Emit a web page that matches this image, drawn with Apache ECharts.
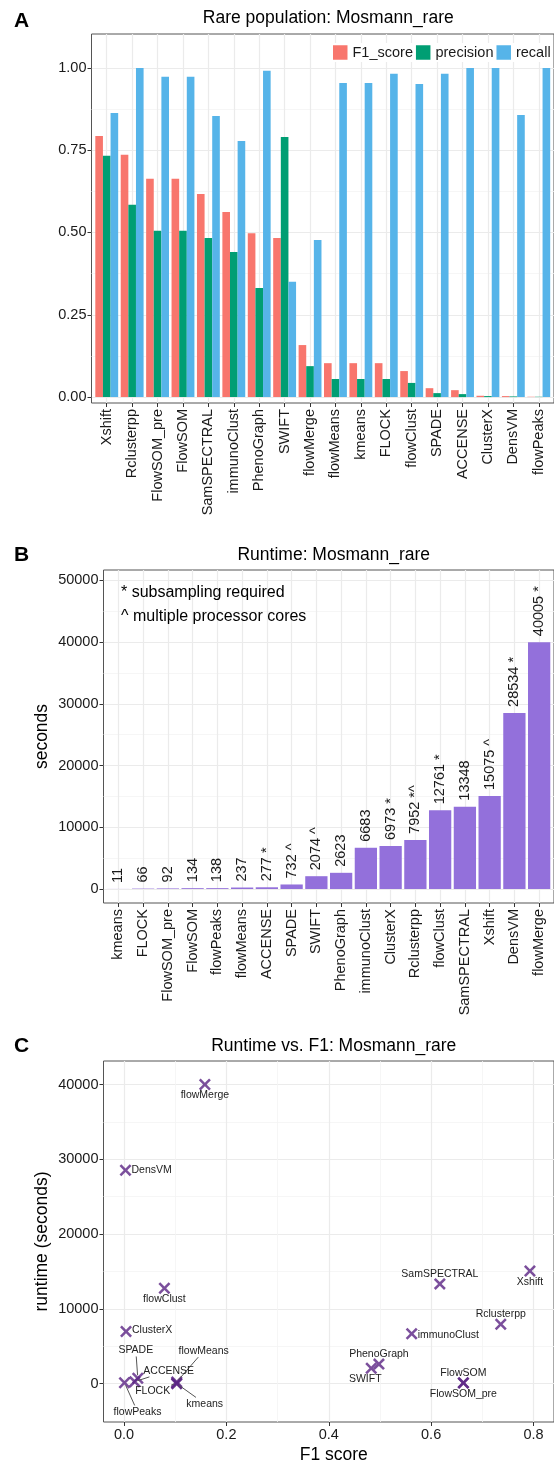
<!DOCTYPE html>
<html><head><meta charset="utf-8">
<script src="https://cdn.jsdelivr.net/npm/echarts@6/dist/echarts.min.js"></script>
<style>html,body{margin:0;padding:0;background:#fff}#c{width:554px;height:1464px}</style>
</head><body><div id="c"></div>
<script>
// ---------- data ----------
const catsA = ['Xshift','Rclusterpp','FlowSOM_pre','FlowSOM','SamSPECTRAL','immunoClust','PhenoGraph','SWIFT','flowMerge','flowMeans','kmeans','FLOCK','flowClust','SPADE','ACCENSE','ClusterX','DensVM','flowPeaks'];
const f1Score   = [0.793,0.736,0.663,0.663,0.617,0.562,0.498,0.483,0.158,0.103,0.103,0.103,0.079,0.027,0.021,0.004,0.003,0.001];
const precision = [0.733,0.584,0.505,0.505,0.483,0.441,0.331,0.790,0.094,0.055,0.055,0.055,0.043,0.012,0.009,0.003,0.002,0.001];
const recall    = [0.863,1.000,0.973,0.973,0.854,0.778,0.991,0.350,0.477,0.954,0.954,0.982,0.951,0.982,1.000,1.000,0.857,1.000];

const catsB = ['kmeans','FLOCK','FlowSOM_pre','FlowSOM','flowPeaks','flowMeans','ACCENSE','SPADE','SWIFT','PhenoGraph','immunoClust','ClusterX','Rclusterpp','flowClust','SamSPECTRAL','Xshift','DensVM','flowMerge'];
const runtimeB = [11,66,92,134,138,237,277,732,2074,2623,6683,6973,7952,12761,13348,15075,28534,40005];
const notesB   = ['','','','','','','*','^','^','','','*','*^','*','','^','*','*'];

const ticksA = [0,0.25,0.5,0.75,1];
const minorA = [0.125,0.375,0.625,0.875];
const ticksB = [0,10000,20000,30000,40000,50000];
const minorB = [5000,15000,25000,35000,45000];
const ticksCx = [0,0.2,0.4,0.6,0.8];
const minorCx = [0.1,0.3,0.5,0.7];
const ticksCy = [0,10000,20000,30000,40000];
const minorCy = [5000,15000,25000,35000];

// ---------- layout / style ----------
const FONT = '"Liberation Sans", Arial, Helvetica, sans-serif';
const TXT = '#1a1a1a';
const AX = 14.5;      // axis text size
const TTL = 17.5;     // title size
const LBL = 10.5;     // scatter label size
const gA = {l: 91.5, t: 34, r: 565, b: 403};
const gB = {l: 103.5, t: 570, r: 564, b: 903};
const gC = {l: 103.5, t: 1061, r: 564, b: 1422};
const major = {color:'#EBEBEB', width:1.2};
const minor = {color:'#F4F4F4', width:0.8};
const labelPosC = {
  flowMerge:{dx:0,dy:11}, DensVM:{dx:6,dy:0,align:'left'}, flowClust:{dx:0,dy:11},
  ClusterX:{dx:6,dy:-1,align:'left'}, SPADE:{dx:-2,dy:-28,line:true}, ACCENSE:{dx:34,dy:-11,line:true},
  FLOCK:{dx:-24,dy:8,line:true}, flowMeans:{dx:27,dy:-31,line:true}, kmeans:{dx:28,dy:20,line:true},
  flowPeaks:{dx:13,dy:29,line:true}, PhenoGraph:{dx:0,dy:-10}, SWIFT:{dx:-6,dy:11},
  immunoClust:{dx:6,dy:1,align:'left'}, SamSPECTRAL:{dx:0,dy:-10}, Xshift:{dx:0,dy:11},
  Rclusterpp:{dx:0,dy:-10}, FlowSOM:{dx:0,dy:-10}, FlowSOM_pre:{dx:0,dy:11}
};

function grid(g){ return {left:g.l, top:g.t, width:g.r-g.l, height:g.b-g.t, show:true, backgroundColor:'#fff', borderColor:'#555', borderWidth:1, containLabel:false}; }
function tick(vals){ return {show:true, customValues:vals, length:4, inside:false, lineStyle:{color:'#333', width:1}}; }
function majorAxis(gi, min, max, vals, fmt, labelExtra){
  return {type:'value', gridIndex:gi, min, max,
    axisLine:{show:false, onZero:false}, axisTick:tick(vals),
    axisLabel:Object.assign({customValues:vals, formatter:fmt, fontSize:AX, color:TXT, fontFamily:FONT, margin:5}, labelExtra || {}),
    splitLine:{show:true, lineStyle:major}};
}
function minorAxis(gi, min, max, vals){
  return {type:'value', gridIndex:gi, min, max, axisLine:{show:false, onZero:false},
    axisTick:{show:false, customValues:vals}, axisLabel:{show:false},
    splitLine:{show:true, lineStyle:minor}};
}
const idxA = catsA.map((_, i) => i + 1);
const idxB = catsB.map((_, i) => i + 1);
const rotLabel = {rotate:90, margin:6};

// scatter data from the two tables
const scatterNames = catsA.slice();
const scatterData = catsA.map((n, i) => [f1Score[i], runtimeB[catsB.indexOf(n)]]);

const mctx = document.createElement('canvas').getContext('2d');
function textW(t){ mctx.font = LBL + 'px ' + FONT; return mctx.measureText(t).width; }

const crossPath = 'path://M0,1.8L1.8,0L6,4.2L10.2,0L12,1.8L7.8,6L12,10.2L10.2,12L6,7.8L1.8,12L0,10.2L4.2,6Z';

function gtext(x, y, text, size, opts){
  opts = opts || {};
  return {type:'text', x, y, z:100, rotation: opts.rot || 0, silent:true,
    style:{text, font:(opts.bold?'bold ':'') + size + 'px ' + FONT, fill: opts.color || '#000',
      align: opts.align || 'center', verticalAlign:'middle'}};
}

const option = {
  animation:false,
  backgroundColor:'#fff',
  grid:[grid(gA), grid(gB), grid(gC)],
  legend:{data:['F1_score','precision','recall'], left:331, top:43, orient:'horizontal',
    itemWidth:14.5, itemHeight:14.5, itemGap:3, icon:'rect', selectedMode:false,
    backgroundColor:'#fff', padding:[2,2],
    textStyle:{fontSize:AX, color:TXT, fontFamily:FONT}},
  xAxis:[
    majorAxis(0, 0.4, catsA.length + 0.6, idxA, v => catsA[Math.round(v) - 1] || '', rotLabel),
    majorAxis(1, 0.4, catsB.length + 0.6, idxB, v => catsB[Math.round(v) - 1] || '', rotLabel),
    majorAxis(2, -0.04, 0.84, ticksCx, v => v.toFixed(1)),
    minorAxis(2, -0.04, 0.84, minorCx)
  ],
  yAxis:[
    majorAxis(0, -0.018, 1.103, ticksA, v => v.toFixed(2)),
    minorAxis(0, -0.018, 1.103, minorA),
    majorAxis(1, -2270, 51700, ticksB, v => String(v)),
    minorAxis(1, -2270, 51700, minorB),
    majorAxis(2, -5120, 43150, ticksCy, v => String(v)),
    minorAxis(2, -5120, 43150, minorCy)
  ],
  series:[
    {name:'F1_score', type:'bar', xAxisIndex:0, yAxisIndex:0, barGap:'0%', barCategoryGap:'10%',
      itemStyle:{color:'#F8766D'}, data:catsA.map((_, i) => [i + 1, f1Score[i]])},
    {name:'precision', type:'bar', xAxisIndex:0, yAxisIndex:0, barGap:'0%', barCategoryGap:'10%',
      itemStyle:{color:'#009E73'}, data:catsA.map((_, i) => [i + 1, precision[i]])},
    {name:'recall', type:'bar', xAxisIndex:0, yAxisIndex:0, barGap:'0%', barCategoryGap:'10%',
      itemStyle:{color:'#56B4E9'}, data:catsA.map((_, i) => [i + 1, recall[i]])},
    {name:'runtime', type:'bar', xAxisIndex:1, yAxisIndex:2, barCategoryGap:'10%',
      itemStyle:{color:'#9370DB'}, data:catsB.map((_, i) => [i + 1, runtimeB[i]]),
      label:{show:true, position:'top', rotate:90, align:'left', verticalAlign:'middle', distance:6,
        fontSize:AX, color:TXT, fontFamily:FONT,
        formatter:p => runtimeB[p.dataIndex] + (notesB[p.dataIndex] ? ' ' + notesB[p.dataIndex] : '')}},
    {name:'points', type:'scatter', xAxisIndex:2, yAxisIndex:4, symbol:crossPath, symbolSize:12,
      itemStyle:{color:'#5A2383'}, data:scatterData, z:3},
    {name:'labels', type:'custom', xAxisIndex:2, yAxisIndex:4, data:scatterData, z:4, silent:true,
      renderItem:(params, api) => {
        const i = params.dataIndex;
        const name = scatterNames[i];
        const cfg = labelPosC[name];
        const p = api.coord([api.value(0), api.value(1)]);
        const cx = p[0] + cfg.dx, cy = p[1] + cfg.dy;
        const align = cfg.align || 'center';
        const w = textW(name);
        const children = [];
        if (cfg.line) {
          const bx = align === 'left' ? cx + w / 2 : cx;
          const vx = p[0] - bx, vy = p[1] - cy;
          const hw = w / 2 + 1, hh = LBL / 2 + 1;
          const t = Math.min(vx ? hw / Math.abs(vx) : Infinity, vy ? hh / Math.abs(vy) : Infinity);
          const len = Math.hypot(vx, vy);
          if (t < 1) children.push({type:'line', shape:{x1:bx + vx * t, y1:cy + vy * t, x2:p[0] - vx / len * 3, y2:p[1] - vy / len * 3},
            style:{stroke:'#555', lineWidth:1}});
        }
        children.push({type:'text', x:cx, y:cy, style:{text:name, font:LBL + 'px ' + FONT, fill:'#222', align, verticalAlign:'middle'}});
        return {type:'group', children};
      }}
  ],
  graphic:[
    gtext(14, 21, 'A', 21, {bold:true, align:'left'}),
    gtext((gA.l + gA.r) / 2, 18, 'Rare population: Mosmann_rare', TTL),
    gtext(14, 555, 'B', 21, {bold:true, align:'left'}),
    gtext((gB.l + gB.r) / 2, 555, 'Runtime: Mosmann_rare', TTL),
    gtext(121, 593, '* subsampling required', 16, {align:'left'}),
    gtext(121, 617, '^ multiple processor cores', 16, {align:'left'}),
    gtext(42, (gB.t + gB.b) / 2, 'seconds', TTL, {rot:Math.PI / 2}),
    gtext(14, 1046, 'C', 21, {bold:true, align:'left'}),
    gtext((gC.l + gC.r) / 2, 1046, 'Runtime vs. F1: Mosmann_rare', TTL),
    gtext(42, (gC.t + gC.b) / 2, 'runtime (seconds)', TTL, {rot:Math.PI / 2}),
    gtext((gC.l + gC.r) / 2, 1455, 'F1 score', TTL)
  ]
};
const chart = echarts.init(document.getElementById('c'), null, {renderer:'canvas'});
chart.setOption(option);
</script></body></html>
